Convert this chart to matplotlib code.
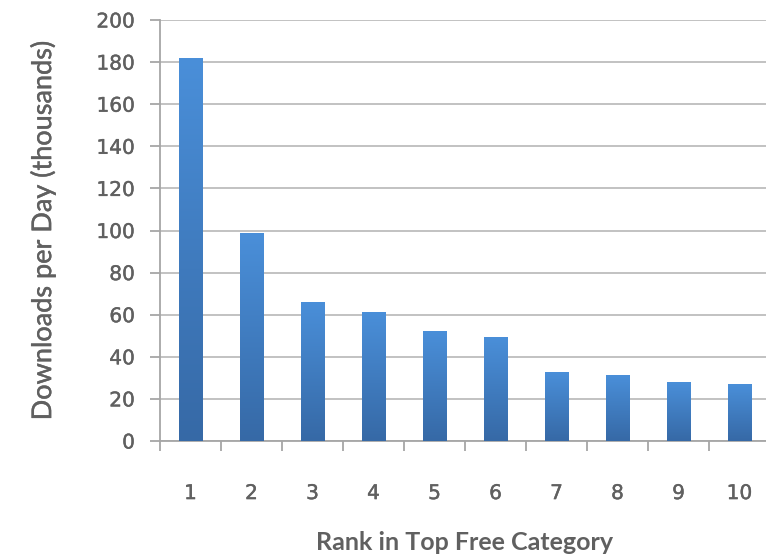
import numpy as np
import matplotlib.pyplot as plt
import matplotlib.patheffects as pe
from matplotlib.colors import LinearSegmentedColormap

# Data
ranks = [1, 2, 3, 4, 5, 6, 7, 8, 9, 10]
downloads = [181.5, 98.5, 66, 61, 52, 49, 32.5, 31, 28, 27]
y_ticks = [0, 20, 40, 60, 80, 100, 120, 140, 160, 180, 200]

plt.rcParams['font.family'] = ['Lato', 'DejaVu Sans']
grey = '#606060'
# slight stroke to get the semi-bold look of the original
thick = [pe.withStroke(linewidth=0.3, foreground=grey)]

fig = plt.figure(figsize=(7.66, 5.58), dpi=100)
ax = fig.add_axes([160/766, 117/558, 610/766, 421/558])

# bars drawn with a vertical gradient (light top, darker bottom)
width = 0.38
cmap = LinearSegmentedColormap.from_list('blu', ['#3669a6', '#4a8fd9'])
grad = np.linspace(0, 1, 256).reshape(-1, 1)
bars = ax.bar(ranks, downloads, width=width, color='none', zorder=3)
for b in bars:
    x0, y0 = b.get_x(), b.get_y()
    ax.imshow(grad, cmap=cmap, origin='lower', aspect='auto', zorder=3,
              extent=[x0, x0 + b.get_width(), y0, y0 + b.get_height()])

ax.set_xlim(0.5, 10.5)
ax.set_ylim(0, 200)
ax.set_yticks(y_ticks)
ax.set_xticks(ranks)
ax.set_xticks(np.arange(0.5, 11, 1), minor=True)
ax.yaxis.grid(True, color='#bdbdbd', linewidth=1.3, zorder=0)

for s in ['top', 'right']:
    ax.spines[s].set_visible(False)
for s in ['left', 'bottom']:
    ax.spines[s].set_color('#a6a6a6')
    ax.spines[s].set_linewidth(1.3)

ax.tick_params(axis='y', which='major', length=7, width=1.3, color='#a6a6a6',
               labelcolor=grey, pad=11)
ax.tick_params(axis='x', which='major', length=0, labelcolor=grey, pad=31)
ax.tick_params(axis='x', which='minor', length=7, width=1.3, color='#a6a6a6')
for lab in ax.get_xticklabels() + ax.get_yticklabels():
    lab.set_family('DejaVu Sans')
    lab.set_fontsize(14.5)
    lab.set_path_effects(thick)

ax.set_xlabel('Rank in Top Free Category', fontsize=18, color=grey,
              fontweight='bold', labelpad=20)
ylab = ax.set_ylabel('Downloads per Day (thousands)', fontsize=19.5,
                     color=grey, labelpad=29)
ylab.set_path_effects(thick)

fig.savefig('out.png', dpi=100)
